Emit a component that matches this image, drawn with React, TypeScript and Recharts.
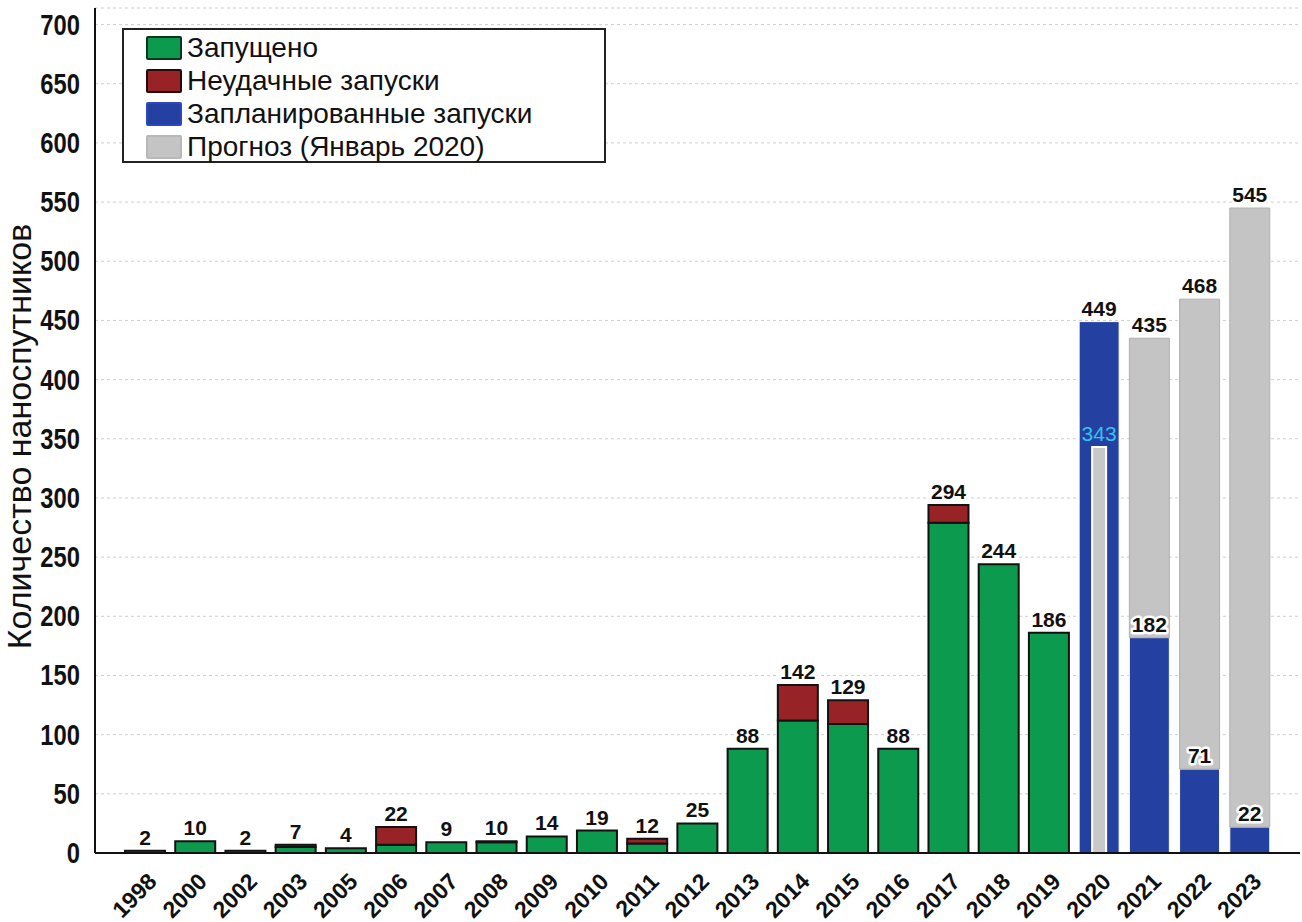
import React from 'react';
import { BarChart, Bar, XAxis, YAxis, CartesianGrid, LabelList, Legend } from 'recharts';

const years = ['1998', '2000', '2002', '2003', '2005', '2006', '2007', '2008', '2009', '2010', '2011', '2012', '2013', '2014', '2015', '2016', '2017', '2018', '2019', '2020', '2021', '2022', '2023'];
const launched = [2, 10, 2, 5, 4, 7, 9, 9, 14, 19, 8, 25, 88, 112, 109, 88, 279, 244, 186, 0, 0, 0, 0];
const failed = [0, 0, 0, 2, 0, 15, 0, 1, 0, 0, 4, 0, 0, 30, 20, 0, 15, 0, 0, 0, 0, 0, 0];
const planned = [0, 0, 0, 0, 0, 0, 0, 0, 0, 0, 0, 0, 0, 0, 0, 0, 0, 0, 0, 449, 182, 71, 22];
const forecastTotal = [0, 0, 0, 0, 0, 0, 0, 0, 0, 0, 0, 0, 0, 0, 0, 0, 0, 0, 0, 0, 435, 468, 545];
const forecast2020 = [0, 0, 0, 0, 0, 0, 0, 0, 0, 0, 0, 0, 0, 0, 0, 0, 0, 0, 0, 343, 0, 0, 0];
const yTicks = [0, 50, 100, 150, 200, 250, 300, 350, 400, 450, 500, 550, 600, 650, 700];

const legendItems = [
  { label: 'Запущено', color: '#0c9a4e', edge: '#06361c' },
  { label: 'Неудачные запуски', color: '#982326', edge: '#2a0708' },
  { label: 'Запланированные запуски', color: '#2440a0', edge: '#2b47c0' },
  { label: 'Прогноз (Январь 2020)', color: '#c4c4c4', edge: '#b8b8b8' },
];

const SANS = "'Liberation Sans', 'DejaVu Sans', sans-serif";

const table = years.map((year, i) => {
  const hasForecast = forecastTotal[i] > 0;
  return {
    year,
    launched: launched[i],
    failed: failed[i],
    planned: planned[i],
    forecastRest: hasForecast ? forecastTotal[i] - planned[i] : 0,
    inner: forecast2020[i],
    launchedTop: failed[i] === 0 && launched[i] > 0 ? launched[i] : 0,
    failedTop: failed[i] > 0 ? launched[i] + failed[i] : 0,
    plannedTop: planned[i],
    forecastTop: forecastTotal[i],
  };
});

const TopLabel = (props: any) => {
  const { x, y, width, value } = props;
  if (!value) return null;
  return (
    <text x={x + width / 2} y={y - 6} textAnchor="middle" fontFamily={SANS} fontSize={21} fontWeight={600} fill="#111"
      stroke="#fff" strokeWidth={5} paintOrder="stroke" strokeLinejoin="round">
      {value}
    </text>
  );
};

const InnerLabel = (props: any) => {
  const { x, y, width, value } = props;
  if (!value) return null;
  return (
    <text x={x + width / 2} y={y - 6} textAnchor="middle" fontFamily={SANS} fontSize={21} fill="#39c0ee">
      {value}
    </text>
  );
};

const YearTick = (props: any) => {
  const { x, y, payload } = props;
  return (
    <g transform={`translate(${x + 13},${y + 30})`}>
      <text x={0} y={0} textAnchor="end" transform="rotate(-45)" fontFamily={SANS} fontSize={23} fontWeight={600} fill="#111">
        {payload.value}
      </text>
    </g>
  );
};

const ValueTick = (props: any) => {
  const { x, y, payload } = props;
  return (
    <g transform={`translate(${x},${y}) scale(0.82,1)`}>
      <text x={0} y={0} dy={10} textAnchor="end" fontFamily={SANS} fontSize={29} fontWeight={600} fill="#111">
        {payload.value}
      </text>
    </g>
  );
};

const AxisTitle = (props: any) => {
  const { viewBox } = props;
  const cx = viewBox.x + 19;
  const cy = viewBox.y + viewBox.height / 2 + 6;
  return (
    <text x={cx} y={cy} transform={`rotate(-90, ${cx}, ${cy})`} textAnchor="middle" dominantBaseline="central"
      fontFamily={SANS} fontSize={34} fill="#111">
      Количество наноспутников
    </text>
  );
};

const LegendBox = () => (
  <div style={{ width: 484, height: 135, border: '2px solid #222', background: '#fff', boxSizing: 'border-box', padding: '1px 0 0 22px' }}>
    {legendItems.map((it) => (
      <div key={it.label} style={{ display: 'flex', alignItems: 'center', height: 33 }}>
        <div style={{ width: 32, height: 20, background: it.color, border: `2px solid ${it.edge}`, marginRight: 5, borderRadius: 2 }} />
        <span style={{ fontFamily: SANS, fontSize: 28, color: '#111', lineHeight: '30px' }}>{it.label}</span>
      </div>
    ))}
  </div>
);

export default function App() {
  return (
    <div style={{ position: 'absolute', left: 0, top: 0, width: 1302, height: 922, background: '#fff' }}>
      <BarChart width={1302} height={922} data={table} margin={{ top: 8, right: 2, left: 0, bottom: 0 }} barSize={40}>
        <CartesianGrid xAxisId="main" vertical={false} stroke="#cfcfcf" strokeDasharray="3 3" />
        <XAxis xAxisId="main" dataKey="year" padding={{ left: 25, right: 25 }} height={69} tickLine={false}
          tickSize={0} tickMargin={0} axisLine={{ stroke: '#111', strokeWidth: 2 }} tick={<YearTick />} interval={0} />
        <XAxis xAxisId="inner" dataKey="year" padding={{ left: 25, right: 25 }} height={0} hide />
        <XAxis xAxisId="top" dataKey="year" orientation="top" height={0} tick={false} tickLine={false}
          axisLine={{ stroke: '#333', strokeWidth: 3 }} />
        <YAxis domain={[0, 714]} ticks={yTicks} width={95} tickLine={false} tickMargin={9} interval={0}
          axisLine={{ stroke: '#111', strokeWidth: 2 }} tick={<ValueTick />} label={<AxisTitle />} />
        <YAxis yAxisId="right" orientation="right" width={0} tick={false} tickLine={false}
          axisLine={{ stroke: '#333', strokeWidth: 3 }} />
        <Legend layout="vertical" align="center" verticalAlign="middle" content={<LegendBox />}
          wrapperStyle={{ left: 122, top: 28, width: 484, height: 135 }} />
        <Bar xAxisId="main" dataKey="launched" stackId="a" fill="#0c9a4e" stroke="#121212" strokeWidth={2} isAnimationActive={false}>
          <LabelList dataKey="launchedTop" content={<TopLabel />} />
        </Bar>
        <Bar xAxisId="main" dataKey="failed" stackId="a" fill="#982326" stroke="#121212" strokeWidth={2} isAnimationActive={false}>
          <LabelList dataKey="failedTop" content={<TopLabel />} />
        </Bar>
        <Bar xAxisId="main" dataKey="planned" stackId="a" fill="#2440a0" stroke="#ffffff" strokeWidth={1} isAnimationActive={false}>
          <LabelList dataKey="plannedTop" content={<TopLabel />} />
        </Bar>
        <Bar xAxisId="main" dataKey="forecastRest" stackId="a" fill="#c4c4c4" stroke="#b0b0b0" strokeWidth={1} isAnimationActive={false}>
          <LabelList dataKey="forecastTop" content={<TopLabel />} />
        </Bar>
        <Bar xAxisId="inner" dataKey="inner" barSize={14} fill="#c8c8c8" stroke="#ffffff" strokeWidth={2} isAnimationActive={false}>
          <LabelList dataKey="inner" content={<InnerLabel />} />
        </Bar>
      </BarChart>
    </div>
  );
}
